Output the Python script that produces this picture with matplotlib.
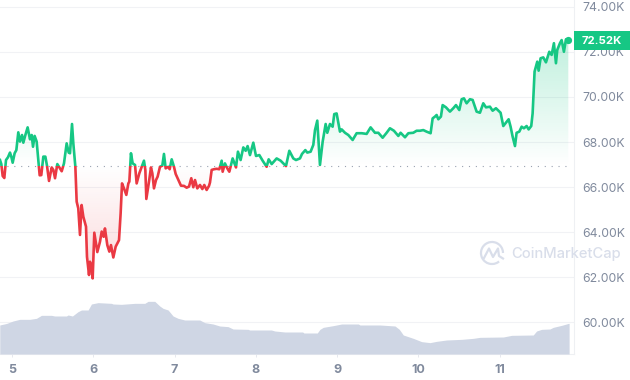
import numpy as np
import matplotlib
matplotlib.use('Agg')
import matplotlib.pyplot as plt
from matplotlib.patches import Arc, Rectangle
from matplotlib.colors import to_rgb

plt.rcParams['font.family'] = ['Inter', 'DejaVu Sans']

### Data ###
# day of month, price in thousands of USD
price_days = [
    4.852, 4.868, 4.885, 4.905, 4.926, 4.950, 4.975, 4.991, 5.008, 5.032, 5.053, 5.077, 5.098, 5.123, 5.139,
    5.164, 5.192, 5.221, 5.242, 5.258, 5.278, 5.303, 5.328, 5.340, 5.360, 5.385, 5.410, 5.430, 5.455, 5.488,
    5.508, 5.529, 5.557, 5.590, 5.611, 5.639, 5.672, 5.697, 5.713, 5.738, 5.754, 5.779, 5.795, 5.815, 5.836,
    5.856, 5.877, 5.910, 5.922, 5.947, 5.959, 5.975, 5.992, 6.012, 6.049, 6.082, 6.103, 6.127, 6.143, 6.172,
    6.197, 6.217, 6.246, 6.275, 6.316, 6.336, 6.353, 6.377, 6.406, 6.431, 6.443, 6.463, 6.484, 6.513, 6.533,
    6.566, 6.595, 6.623, 6.640, 6.652, 6.685, 6.709, 6.726, 6.746, 6.771, 6.791, 6.820, 6.849, 6.869, 6.890,
    6.923, 6.939, 6.964, 6.992, 7.013, 7.046, 7.078, 7.115, 7.148, 7.177, 7.205, 7.230, 7.251, 7.279, 7.312,
    7.341, 7.365, 7.394, 7.423, 7.435,
    7.456, 7.484, 7.517, 7.550, 7.579, 7.591, 7.619, 7.648, 7.673, 7.714, 7.755, 7.779, 7.812, 7.845, 7.874,
    7.898, 7.927, 7.968, 8.001, 8.042, 8.083, 8.132, 8.157, 8.194, 8.255, 8.304, 8.370, 8.411, 8.460, 8.493,
    8.542, 8.567, 8.608, 8.632, 8.673, 8.706, 8.727, 8.755, 8.788, 8.821, 8.858, 8.878, 8.911, 8.944, 8.964,
    8.993, 9.034, 9.055, 9.096, 9.137, 9.190, 9.239, 9.301, 9.362, 9.411, 9.465, 9.506, 9.559, 9.608, 9.649,
    9.698, 9.752, 9.780, 9.834, 9.875, 9.936, 9.977, 10.018,
    10.059, 10.100, 10.149, 10.174, 10.203, 10.223, 10.244, 10.276, 10.297, 10.338, 10.387, 10.428, 10.461,
    10.502, 10.531, 10.559, 10.592, 10.633, 10.666, 10.715, 10.756, 10.797, 10.830, 10.879, 10.912, 10.953,
    11.010, 11.043, 11.076, 11.109, 11.133, 11.158, 11.187, 11.207, 11.240, 11.269, 11.297, 11.330, 11.355,
    11.387, 11.404, 11.428, 11.461, 11.478, 11.502, 11.535, 11.568, 11.609, 11.638, 11.666, 11.691, 11.707,
    11.740, 11.761, 11.789, 11.814, 11.843,
]
price_vals = [
    67.20, 67.02, 66.49, 66.40, 67.20, 67.32, 67.53, 67.35, 67.08, 67.50, 67.64, 68.43, 68.02, 68.31, 67.97,
    68.31, 68.65, 68.12, 68.31, 67.79, 68.27, 68.02, 66.98, 66.52, 66.53, 67.35, 67.35, 66.95, 66.27, 66.87,
    66.76, 66.39, 67.02, 66.83, 66.70, 67.05, 67.94, 67.53, 67.50, 68.80, 67.94, 66.90, 65.35, 65.05, 63.87,
    65.20, 64.68, 64.24, 62.90, 62.09, 62.68, 62.46, 61.94, 63.97, 63.11, 63.57, 64.02, 63.79, 64.16, 63.42,
    63.13, 63.42, 62.87, 63.35, 63.64, 64.83, 66.16, 65.94, 65.65, 66.16, 66.24, 67.50, 67.05, 66.98, 66.16,
    66.61, 66.90, 67.17, 66.76, 65.47, 66.24, 66.87, 66.61, 65.94, 66.31, 66.46, 66.90, 66.95, 67.47, 66.83,
    66.90, 66.79, 67.23, 66.90, 66.58, 66.31, 66.06, 66.05, 65.97, 66.02, 66.39, 65.99, 66.31, 65.94, 66.09,
    65.91, 66.09, 65.87, 66.05, 66.20,
    66.76, 66.79, 66.81, 66.79, 67.17, 66.68, 67.05, 66.83, 66.68, 67.27, 66.87, 67.57, 67.20, 67.76, 67.61,
    67.82, 67.42, 67.97, 67.38, 67.42, 67.17, 66.90, 67.23, 67.02, 67.27, 67.17, 66.93, 67.61, 67.27, 67.20,
    67.27, 67.47, 67.64, 67.53, 67.57, 67.87, 68.53, 68.95, 66.98, 68.01, 68.80, 68.41, 68.80, 68.68, 69.24,
    69.27, 68.46, 68.56, 68.41, 68.31, 68.09, 68.39, 68.39, 68.36, 68.65, 68.41, 68.41, 68.19, 68.41, 68.61,
    68.50, 68.27, 68.41, 68.21, 68.39, 68.41, 68.50, 68.50,
    68.53, 68.46, 68.39, 69.05, 69.13, 69.20, 69.01, 69.13, 69.64, 69.54, 69.35, 69.50, 69.64,
    69.42, 69.90, 69.94, 69.72, 69.90, 69.87, 69.35, 69.30, 69.72, 69.54, 69.57, 69.39, 69.50,
    69.30, 68.71, 68.86, 69.01, 68.68, 68.24, 67.82, 68.41, 68.46, 68.68, 68.61, 68.71, 68.56,
    68.71, 69.27, 71.13, 71.57, 71.17, 71.72, 71.76, 71.54, 72.01, 71.87, 72.39, 71.50, 72.09,
    72.39, 72.53, 72.01, 72.56, 72.52,
]
base_price = 66.93
last_label = '72.52K'

# 24h volume, billions of USD
volume_days = [
    4.849, 4.931, 5.013, 5.095, 5.157, 5.218, 5.300, 5.362, 5.485, 5.526, 5.669, 5.690, 5.743, 5.813, 5.854,
    5.936, 5.977, 6.059, 6.223, 6.243, 6.346, 6.510, 6.633, 6.674, 6.756, 6.817, 6.858, 6.920, 6.981, 7.043,
    7.125, 7.309, 7.371, 7.473, 7.555, 7.658, 7.719, 7.904, 7.924, 8.191, 8.232,
    8.358, 8.575, 8.591, 8.755, 8.788, 8.829, 8.952, 9.055, 9.260, 9.280, 9.526, 9.711, 9.764, 9.813, 9.936,
    10.039, 10.141, 10.223, 10.346, 10.531, 10.674, 10.756, 11.043, 11.146, 11.412, 11.453, 11.515, 11.617,
    11.658, 11.761, 11.863,
]
volume_vals = [
    58, 61, 66, 69.3, 69.3, 69.3, 71.3, 77.3, 77.3, 76, 76, 78, 76, 84.7, 88,
    88, 100, 102.7, 101.3, 100, 99.3, 101.3, 101.3, 105.3, 105.3, 96, 91.3, 88, 76, 71.3,
    68, 68, 62.7, 60, 56, 54.7, 50, 49.3, 48, 48, 46,
    44, 44, 42, 42, 49.3, 53.3, 56.7, 60, 60, 58, 58, 56, 49.3, 38, 31.3,
    24.7, 22.7, 25.3, 28, 29.3, 31.3, 33.3, 34, 37.3, 38, 46, 49.3, 50,
    53.3, 57.3, 62,
]

price_ticks = [60, 62, 64, 66, 68, 70, 72, 74]
price_labels = ['60.00K', '62.00K', '64.00K', '66.00K', '68.00K', '70.00K', '72.00K', '74.00K']
day_ticks = [5, 6, 7, 8, 9, 10, 11]

### Style ###
green = '#16c784'
red = '#ea3943'
grey = '#808a9d'
gridc = '#f1f2f5'
volc = '#cfd6e4'
markc = '#d9deea'


def gradient(ax, xs, ys, base, color, alpha_far):
    # area between line and base, fades out towards the base
    y = np.array(ys)
    if color == green:
        y = np.maximum(y, base)
    else:
        y = np.minimum(y, base)
    poly = ax.fill_between(xs, y, base, color='none', lw=0)
    far = y.max() if color == green else y.min()
    alpha = np.linspace(alpha_far, 0, 256)
    if color != green:
        alpha = alpha[::-1]
    img = np.zeros((256, 1, 4))
    img[:, :, :3] = to_rgb(color)
    img[:, 0, 3] = alpha
    top, bottom = max(far, base), min(far, base)
    im = ax.imshow(img, extent=(xs[0], xs[-1], bottom, top), aspect='auto', origin='upper', zorder=1)
    im.set_clip_path(poly.get_paths()[0], transform=ax.transData)


fig = plt.figure(figsize=(6.3, 3.8), dpi=100)
ax = fig.add_axes([0, 26 / 380, 574 / 630, 354 / 380])
xlim = (4.852, 11.913)
ylim = (58.58, 74.31)

gradient(ax, price_days, price_vals, base_price, green, 0.27)
gradient(ax, price_days, price_vals, base_price, red, 0.2)

# same line twice, clipped at the base price
up, = ax.plot(price_days, price_vals, color=green, lw=1.9, zorder=3, solid_joinstyle='round')
down, = ax.plot(price_days, price_vals, color=red, lw=1.9, zorder=3, solid_joinstyle='round')
up.set_clip_path(Rectangle((xlim[0], base_price), xlim[1] - xlim[0], ylim[1] - base_price, transform=ax.transData))
down.set_clip_path(Rectangle((xlim[0], ylim[0]), xlim[1] - xlim[0], base_price - ylim[0], transform=ax.transData))
ax.plot(price_days[-1], price_vals[-1], 'o', color=green, ms=5.2, mew=0, zorder=4)

ax.plot([xlim[0], price_days[-1] + 0.02], [base_price, base_price], color='#9aa2b1', lw=0.8,
        ls=(0, (1, 5.2)), zorder=2)

ax.set_xlim(xlim)
ax.set_ylim(ylim)
ax.set_xticks(day_ticks)
ax.set_xticklabels([str(d) for d in day_ticks], fontweight='bold')
ax.set_yticks(price_ticks)
ax.set_yticklabels(price_labels)
ax.tick_params(axis='x', length=2.5, width=0.7, color='#e6e8ee', pad=5, labelsize=9, labelcolor=grey)
ax.grid(axis='y', color=gridc, lw=0.8)
ax.set_axisbelow(True)
for s in ('top', 'left'):
    ax.spines[s].set_visible(False)
for s in ('right', 'bottom'):
    ax.spines[s].set_color('#eef0f3')
    ax.spines[s].set_linewidth(0.8)

# volume sits in its own scale at the bottom
vax = ax.twinx()
vax.fill_between(volume_days + [price_days[-1] + 0.01], volume_vals + [volume_vals[-1]], 0, color=volc, lw=0)
vax.set_xlim(xlim)
vax.set_ylim(0, 708)
vax.axis('off')

# twinx moves the price ticks back to the left
ax.yaxis.tick_right()
ax.tick_params(axis='y', length=0, pad=6, labelsize=8.8, labelcolor=grey)

# last price tag
tr = ax.get_yaxis_transform()
ax.add_patch(Rectangle((1, price_vals[-1] - 0.41), 56 / 574, 0.83, transform=tr, color=green, lw=0,
                       clip_on=False, zorder=10))
ax.text(1 + 28 / 574, price_vals[-1], last_label, transform=tr, color='white', fontsize=8.2, fontweight='bold',
        ha='center', va='center_baseline', zorder=11, clip_on=False)

# watermark
fig.text(511 / 630, 1 - 254 / 380, 'CoinMarketCap', color=markc, fontsize=10.6, fontweight='medium',
         va='center', ha='left', zorder=12)
lax = fig.add_axes([478 / 630, 1 - 267 / 380, 28 / 630, 28 / 380])
lax.set_xlim(0, 28)
lax.set_ylim(28, 0)
lax.axis('off')
lax.add_patch(Arc((14, 14), 22, 22, theta1=50, theta2=360, color=markc, lw=1.6))
lax.plot([6, 11, 15, 20, 21, 25], [19, 9.5, 18, 9.5, 17, 19.5], color=markc, lw=1.6)

fig.savefig('out.png', dpi=100)
